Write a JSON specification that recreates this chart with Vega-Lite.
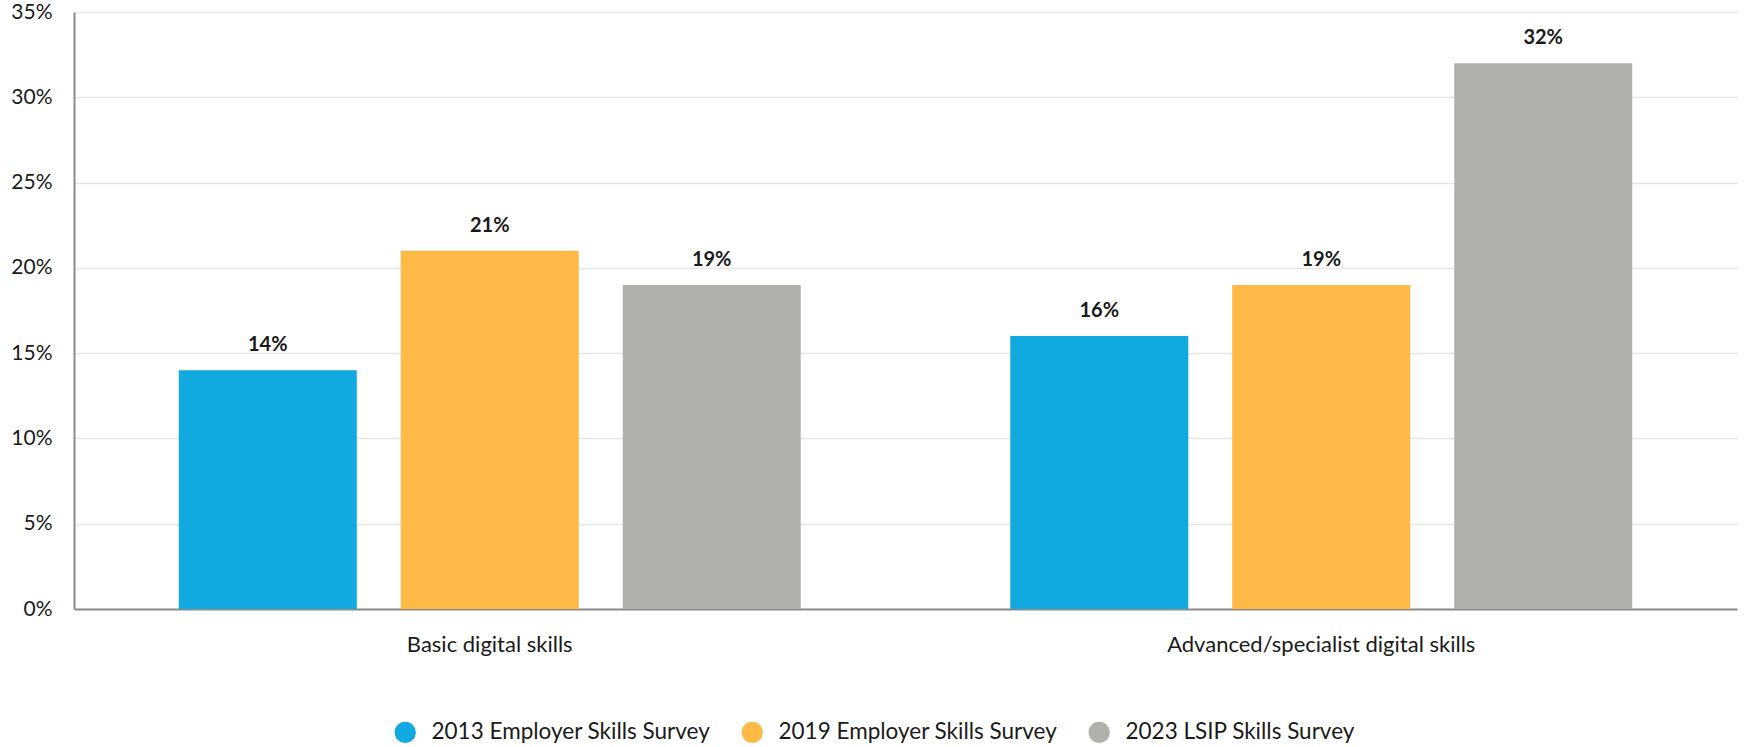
{
  "$schema": "https://vega.github.io/schema/vega-lite/v6.json",
  "width": 1663,
  "height": 597,
  "autosize": {"type": "none"},
  "padding": {"left": 74, "top": 12, "right": 9, "bottom": 138},
  "config": {"view": {"stroke": null}, "font": "Lato", "background": "#ffffff"},
  "data": {
    "values": [
      {"skill": "Basic digital skills", "survey": "2013 Employer Skills Survey", "value": 0.14},
      {"skill": "Basic digital skills", "survey": "2019 Employer Skills Survey", "value": 0.21},
      {"skill": "Basic digital skills", "survey": "2023 LSIP Skills Survey", "value": 0.19},
      {"skill": "Advanced/specialist digital skills", "survey": "2013 Employer Skills Survey", "value": 0.16},
      {"skill": "Advanced/specialist digital skills", "survey": "2019 Employer Skills Survey", "value": 0.19},
      {"skill": "Advanced/specialist digital skills", "survey": "2023 LSIP Skills Survey", "value": 0.32}
    ]
  },
  "encoding": {
    "x": {
      "field": "skill",
      "type": "nominal",
      "sort": ["Basic digital skills", "Advanced/specialist digital skills"],
      "scale": {"paddingInner": 0, "paddingOuter": 0},
      "axis": {
        "title": null,
        "labelAngle": 0,
        "labelFontSize": 22,
        "labelColor": "#1a1a1a",
        "labelPadding": 25,
        "labelLimit": 600,
        "ticks": false,
        "tickSize": 0,
        "domainColor": "#8c8c8c",
        "domainWidth": 2,
        "grid": false
      }
    },
    "xOffset": {
      "field": "survey",
      "type": "nominal",
      "sort": ["2013 Employer Skills Survey", "2019 Employer Skills Survey", "2023 LSIP Skills Survey"],
      "scale": {"paddingInner": 0.198, "paddingOuter": 0.472}
    },
    "y": {
      "field": "value",
      "type": "quantitative",
      "scale": {"domain": [0, 0.35], "nice": false},
      "axis": {
        "title": null,
        "format": ".0%",
        "values": [0, 0.05, 0.1, 0.15, 0.2, 0.25, 0.3, 0.35],
        "labelFontSize": 21,
        "labelColor": "#1a1a1a",
        "labelPadding": 22,
        "ticks": false,
        "tickSize": 0,
        "domainColor": "#8c8c8c",
        "domainWidth": 2,
        "gridColor": "#e6e6e6",
        "gridWidth": 1.5
      }
    }
  },
  "layer": [
    {
      "mark": {"type": "bar"},
      "encoding": {
        "color": {
          "field": "survey",
          "type": "nominal",
          "sort": ["2013 Employer Skills Survey", "2019 Employer Skills Survey", "2023 LSIP Skills Survey"],
          "scale": {
            "domain": ["2013 Employer Skills Survey", "2019 Employer Skills Survey", "2023 LSIP Skills Survey"],
            "range": ["#12a9e0", "#ffb947", "#b1b1ac"]
          },
          "legend": {
            "title": null,
            "orient": "none",
            "direction": "horizontal",
            "legendX": 320,
            "legendY": 709,
            "symbolType": "circle",
            "symbolSize": 450,
            "symbolStrokeWidth": 0,
            "labelFontSize": 22.5,
            "labelColor": "#1a1a1a",
            "labelOffset": 15,
            "columnPadding": 30,
            "labelLimit": 400
          }
        }
      }
    },
    {
      "mark": {"type": "text", "dy": -19, "baseline": "alphabetic", "fontWeight": "bold", "fontSize": 20, "color": "#1a1a1a"},
      "encoding": {
        "text": {"field": "value", "type": "quantitative", "format": ".0%"}
      }
    }
  ]
}
